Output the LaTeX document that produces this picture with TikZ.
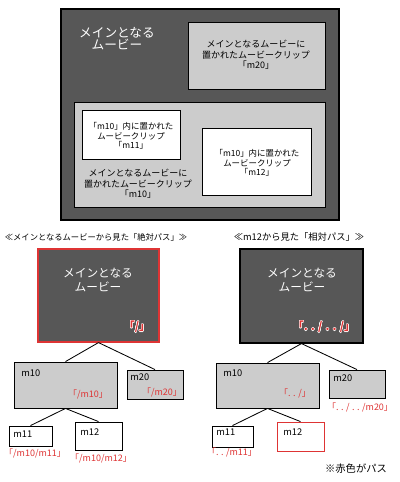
\documentclass[tikz,border=0pt]{standalone}
\usepackage{fontspec}
\setmainfont{Noto Sans CJK JP}
\usepackage{contour}
\contourlength{0.35pt}
\definecolor{movie}{RGB}{87,87,87}
\definecolor{clip}{RGB}{204,204,204}
\definecolor{pathred}{RGB}{222,52,52}
\newcommand{\dotsep}{\kern0.28em}
\tikzset{
  mainbox/.style = {draw = black, fill = movie, line width = 0.8pt, inner sep = 0pt},
  clipbox/.style = {draw = black, fill = clip, line width = 0.6pt, inner sep = 0pt},
  leafbox/.style = {draw = black, fill = white, line width = 0.6pt, inner sep = 0pt},
  branch/.style = {draw = black, line width = 0.6pt},
  cliptext/.style = {font = \fontsize{6.4}{7.5}\selectfont, align = center, inner sep = 0pt},
  clipname/.style = {font = \fontsize{6.6}{7.5}\selectfont, anchor = west, inner sep = 0pt},
  pathlabel/.style = {font = \fontsize{6.4}{7.5}\selectfont, text = pathred, inner sep = 0pt},
  rootpath/.style = {font = \bfseries\fontsize{8}{8}\selectfont, inner sep = 0pt}
}
\begin{document}
\begin{tikzpicture}[x = 0.025cm, y = -0.025cm]
\useasboundingbox (0, 0) rectangle (400, 482);
% nested movie clips
\draw[mainbox] (61, 9) rectangle (339, 220);
\node[cliptext, text = white, font = \fontsize{9}{8.6}\selectfont] (maintext) at (117, 39) {メインとなる\\ムービー};
\draw[clipbox] (188, 22) rectangle (325, 89);
\node[cliptext] (m20text) at (256, 55) {メインとなるムービーに\\置かれたムービークリップ\\「m20」};
\draw[clipbox] (74, 102) rectangle (325, 207);
\node[cliptext] (m10text) at (138, 184) {メインとなるムービーに\\置かれたムービークリップ\\「m10」};
\draw[leafbox] (82, 110) rectangle (180, 159);
\node[cliptext, font = \fontsize{6}{6.8}\selectfont] (m11text) at (131, 136) {「m10」内に置かれた\\ムービークリップ\\「m11」};
\draw[leafbox] (202, 128) rectangle (311, 195);
\node[cliptext, font = \fontsize{6}{6.8}\selectfont] (m12text) at (257, 163) {「m10」内に置かれた\\ムービークリップ\\「m12」};

% absolute path tree
\node[cliptext, font = \fontsize{5.9}{7}\selectfont] (abshead) at (96, 237) {≪メインとなるムービーから見た「絶対パス」≫};
\node[mainbox, draw = pathred, minimum width = 3.025cm, minimum height = 2.325cm] (aroot) at (98.5, 295.5) {};
\node[cliptext, text = white, font = \fontsize{8.3}{10}\selectfont] (aroottext) at (98, 280) {メインとなる\\ムービー};
\node[rootpath] (arootpath) at (137, 327) {\contour{white}{\textcolor{pathred}{「/」}}};
\node[clipbox, minimum width = 2.575cm, minimum height = 1.15cm] (am10) at (65.5, 385) {};
\node[clipbox, minimum width = 1.4cm, minimum height = 0.725cm] (am20) at (155, 384.5) {};
\node[leafbox, minimum width = 1.075cm, minimum height = 0.5cm] (am11) at (30.5, 436) {};
\node[leafbox, minimum width = 1.175cm, minimum height = 0.7cm] (am12) at (98.5, 436) {};
\draw[branch] (aroot.south) -- (am10.north);
\draw[branch] (aroot.south) -- (am20.north);
\draw[branch] (am10.south) -- (am11.north);
\draw[branch] (am10.south) -- (am12.north);
\node[clipname] (am10name) at (21, 373) {m10};
\node[pathlabel] (am10path) at (88, 394) {「/m10」};
\node[clipname] (am20name) at (130, 377) {m20};
\node[pathlabel] (am20path) at (162, 392) {「/m20」};
\node[clipname] (am11name) at (13, 434) {m11};
\node[pathlabel] (am11path) at (35, 453) {「/m10/m11」};
\node[clipname] (am12name) at (80, 432) {m12};
\node[pathlabel] (am12path) at (101, 458) {「/m10/m12」};

% relative path tree
\node[cliptext, font = \fontsize{6.6}{7}\selectfont] (relhead) at (299, 237) {≪m12から見た「相対パス」≫};
\node[mainbox, minimum width = 3.075cm, minimum height = 2.35cm] (rroot) at (301.5, 296) {};
\node[cliptext, text = white, font = \fontsize{8.3}{10}\selectfont] (rroottext) at (302, 280) {メインとなる\\ムービー};
\node[rootpath] (rrootpath) at (324, 327) {\contour{white}{\textcolor{pathred}{「.\dotsep.\dotsep/\dotsep.\dotsep.\dotsep/」}}};
\node[clipbox, minimum width = 2.575cm, minimum height = 1.125cm] (rm10) at (267.5, 385.5) {};
\node[clipbox, minimum width = 1.4cm, minimum height = 0.7cm] (rm20) at (357, 384) {};
\node[leafbox, minimum width = 1.025cm, minimum height = 0.525cm] (rm11) at (232.5, 436.5) {};
\node[leafbox, draw = pathred, minimum width = 1.175cm, minimum height = 0.725cm] (rm12) at (300.5, 436.5) {};
\draw[branch] (rroot.south) -- (rm10.north);
\draw[branch] (rroot.south) -- (rm20.north);
\draw[branch] (rm10.south) -- (rm11.north);
\draw[branch] (rm10.south) -- (rm12.north);
\node[clipname] (rm10name) at (223, 373) {m10};
\node[pathlabel] (rm10path) at (295, 393) {「.\dotsep.\dotsep/」};
\node[clipname] (rm20name) at (333, 378) {m20};
\node[pathlabel] (rm20path) at (360, 407) {「.\dotsep.\dotsep/\dotsep.\dotsep.\dotsep/m20」};
\node[clipname] (rm11name) at (216, 432) {m11};
\node[pathlabel] (rm11path) at (232, 452) {「.\dotsep.\dotsep/m11」};
\node[clipname] (rm12name) at (283, 432) {m12};

\node[cliptext, font = \fontsize{7.3}{8}\selectfont] (note) at (356, 469) {※赤色がパス};
\end{tikzpicture}
\end{document}
